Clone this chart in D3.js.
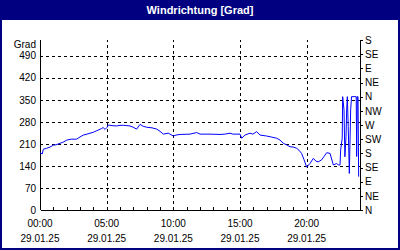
<!DOCTYPE html>
<html>
<head>
<meta charset="utf-8">
<script src="https://cdn.jsdelivr.net/npm/d3@7.9.0/dist/d3.min.js"></script>
<style>
  html, body { margin: 0; padding: 0; background: #fff; }
  svg { display: block; font-family: "Liberation Sans", sans-serif; }
</style>
</head>
<body>
<div id="chart"></div>
<script>
const title = 'Windrichtung [Grad]';
const unitLabel = 'Grad';
const dateLabel = '29.01.25';

const times = [
  '00:00', '00:10', '00:15', '00:30', '00:45', '01:00', '01:12', '01:30', '01:43', '02:00',
  '02:20', '02:45', '03:00', '03:15', '03:36', '04:00', '04:16', '04:38', '04:44', '04:53',
  '05:01', '05:07', '05:24', '05:45', '06:00', '06:15', '06:31', '06:45', '06:59', '07:15',
  '07:30', '07:44', '08:00', '08:24', '08:45', '09:00', '09:15', '09:37', '10:00', '10:12',
  '10:30', '11:15', '11:45', '12:00', '12:45', '13:30', '13:52', '14:15', '14:28', '15:00',
  '15:08', '15:22', '15:45', '15:58', '16:15', '16:30', '17:00', '17:20', '17:45', '18:00',
  '18:15', '18:32', '18:45', '18:59', '19:15', '19:25', '19:37', '19:48', '20:00', '20:15',
  '20:30', '20:42', '20:52', '21:07', '21:18', '21:30', '21:45', '22:00', '22:15', '22:22',
  '22:30', '22:33', '22:40', '22:42', '22:48', '22:52', '22:57', '23:00', '23:03', '23:07',
  '23:12', '23:18', '23:22', '23:43', '23:45', '23:48', '23:51', '23:54'
];
const direction = [
  182, 178, 193, 196, 200, 206, 207, 212, 215, 222,
  225, 225, 232, 238, 242, 247, 252, 259, 262, 256,
  262, 270, 268, 267, 269, 269, 268, 267, 263, 257,
  272, 266, 263, 261, 257, 250, 241, 244, 235, 238,
  240, 241, 246, 241, 241, 240, 241, 244, 241, 241,
  228, 238, 244, 241, 249, 238, 235, 232, 228, 222,
  212, 206, 201, 200, 196, 190, 180, 160, 136, 148,
  164, 155, 153, 159, 170, 182, 180, 143, 148, 143,
  143, 191, 228, 360, 318, 169, 233, 318, 360, 265,
  116, 318, 360, 360, 170, 360, 360, 106
];

const leftTicks = [0, 70, 140, 210, 280, 350, 420, 490];
const compassLabels = ['N', 'NE', 'E', 'SE', 'S', 'SW', 'W', 'NW', 'N', 'NE', 'E', 'SE', 'S'];
const xLabelHours = [0, 5, 10, 15, 20];

const width = 400, height = 250;
const margin = { top: 40, right: 40, bottom: 40, left: 40 };
const navy = '#000080';

const toHours = s => { const [h, m] = s.split(':').map(Number); return h + m / 60; };
const data = times.map((t, i) => ({ h: toHours(t), v: direction[i] }));

const svg = d3.select('#chart').append('svg')
  .attr('width', width)
  .attr('height', height);

// frame + title bar
svg.append('rect').attr('x', 1).attr('y', 1).attr('width', width - 2).attr('height', height - 2)
  .attr('fill', '#fff').attr('stroke', navy).attr('stroke-width', 2);
svg.append('rect').attr('x', 0).attr('y', 0).attr('width', width).attr('height', 20).attr('fill', navy);
svg.append('text')
  .attr('x', width / 2).attr('y', 14)
  .attr('text-anchor', 'middle')
  .attr('fill', '#fff')
  .style('font-size', '11px').style('font-weight', 'bold')
  .text(title);

const x = d3.scaleLinear().domain([0, 24]).range([margin.left, width - margin.right]);
const y = d3.scaleLinear().domain([0, 540]).range([height - margin.bottom, margin.top]);

// gridlines
svg.append('g')
  .attr('transform', `translate(${margin.left},0)`)
  .call(d3.axisLeft(y).tickValues(leftTicks.slice(1)).tickFormat('').tickSize(-(x.range()[1] - x.range()[0])))
  .call(g => g.select('.domain').remove())
  .call(g => g.selectAll('line').attr('stroke', '#000').attr('stroke-dasharray', '3,3').attr('shape-rendering', 'crispEdges'));

svg.append('g')
  .attr('transform', `translate(0,${y(0)})`)
  .call(d3.axisBottom(x).tickValues(xLabelHours.slice(1)).tickFormat('').tickSize(-(y(0) - y(540))))
  .call(g => g.select('.domain').remove())
  .call(g => g.selectAll('line').attr('stroke', '#000').attr('stroke-dasharray', '3,3').attr('shape-rendering', 'crispEdges'));

// bottom axis: hourly ticks pointing inward
const xAxis = svg.append('g')
  .attr('transform', `translate(0,${y(0)})`)
  .call(d3.axisBottom(x).ticks(24).tickFormat('').tickSizeInner(-3).tickSizeOuter(0))
  .call(g => g.selectAll('path,line').attr('stroke', '#000').attr('shape-rendering', 'crispEdges'));

// x labels (time + date)
const xl = svg.append('g').style('font-size', '10px').attr('fill', '#000');
xl.selectAll('text.t').data(xLabelHours).join('text')
  .attr('class', 't')
  .attr('x', d => x(d)).attr('y', 227)
  .attr('text-anchor', 'middle')
  .text(d => `${String(d).padStart(2, '0')}:00`);
xl.selectAll('text.d').data(xLabelHours).join('text')
  .attr('class', 'd')
  .attr('x', d => x(d)).attr('y', 242)
  .attr('text-anchor', 'middle')
  .text(dateLabel);

// left axis
svg.append('g')
  .attr('transform', `translate(${margin.left},0)`)
  .call(d3.axisLeft(y).tickValues(leftTicks).tickSize(0).tickPadding(4))
  .call(g => g.select('.domain').attr('d', `M0,${y(0)}V${y(540)}`).attr('stroke', '#000').attr('shape-rendering', 'crispEdges'))
  .call(g => g.selectAll('text').style('font-size', '10px').style('font-family', '"Liberation Sans", sans-serif').attr('fill', '#000'));

svg.append('text')
  .attr('x', 36).attr('y', 48)
  .attr('text-anchor', 'end')
  .style('font-size', '10px')
  .text(unitLabel);

// right axis (compass)
svg.append('g')
  .attr('transform', `translate(${width - margin.right},0)`)
  .call(d3.axisRight(y).tickValues(compassLabels.map((_, i) => i * 45))
    .tickFormat((d, i) => compassLabels[i]).tickSize(3).tickPadding(2))
  .call(g => g.select('.domain').attr('d', `M0,${y(0)}V${y(540)}`))
  .call(g => g.selectAll('path,line').attr('stroke', '#000').attr('shape-rendering', 'crispEdges'))
  .call(g => g.selectAll('text').style('font-size', '10px').style('font-family', '"Liberation Sans", sans-serif').attr('fill', '#000'));

// data line
svg.append('path')
  .datum(data)
  .attr('fill', 'none')
  .attr('stroke', '#0000ff')
  .attr('stroke-width', 1)
  .attr('d', d3.line().x(d => x(d.h)).y(d => y(d.v)));
</script>
</body>
</html>
